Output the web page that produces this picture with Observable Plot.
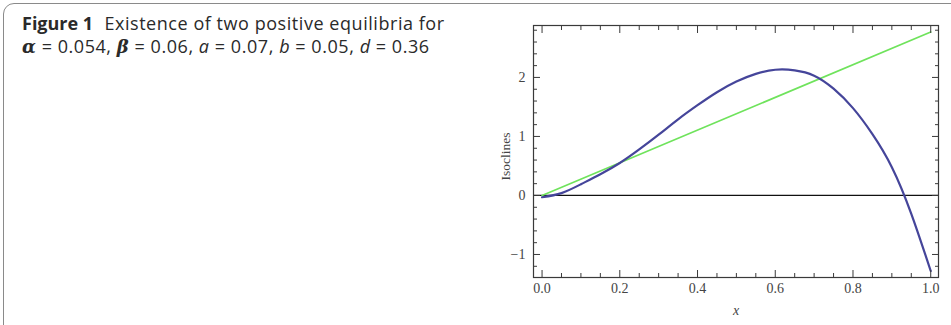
<!DOCTYPE html>
<html>
<head>
<meta charset="utf-8">
<script src="https://cdn.jsdelivr.net/npm/d3@7"></script>
<script src="https://cdn.jsdelivr.net/npm/@observablehq/plot@0.6"></script>
<style>
  html, body { margin: 0; padding: 0; background: #fff; }
  #page { position: relative; width: 951px; height: 325px; overflow: hidden; }
  #box {
    position: absolute; left: 3px; top: 3px; width: 980px; height: 360px;
    border: 1.5px solid #8a8a8a; border-radius: 11px; box-sizing: border-box;
  }
  #caption {
    position: absolute; left: 22px; top: 12px; width: 480px;
    font-family: "Open Sans", sans-serif; font-size: 18px; line-height: 23px;
    color: #2a2a2a; letter-spacing: 0.55px; white-space: nowrap;
  }
  #caption b { font-weight: 700; letter-spacing: 0; margin-right: 6px; }
  #caption i { font-style: italic; }
  #caption .g { font-family: "DejaVu Serif", serif; font-style: italic; font-weight: 700; }
  #chart { position: absolute; left: 490px; top: 0px; }
  #chart svg { overflow: visible; }
</style>
</head>
<body>
<div id="page">
  <div id="box"></div>
  <div id="caption">
    <b>Figure 1</b> Existence of two positive equilibria for<br>
    <span class="g">α</span> = 0.054, <span class="g">β</span> = 0.06, <i>a</i> = 0.07, <i>b</i> = 0.05, <i>d</i> = 0.36
  </div>
  <div id="chart"></div>
</div>
<script>
// Isocline sampled along x (blue curve)
const curveX = [0, 0.05, 0.1, 0.15, 0.2, 0.25, 0.3, 0.35, 0.4, 0.45, 0.5, 0.55, 0.6, 0.65, 0.7, 0.75, 0.8, 0.85, 0.9, 0.95, 1.0];
const curveY = [-0.03, 0.04, 0.19, 0.36, 0.55, 0.78, 1.03, 1.29, 1.53, 1.75, 1.93, 2.06, 2.13, 2.12, 2.03, 1.81, 1.48, 1.04, 0.48, -0.31, -1.28];

// Straight isocline (green line)
const lineX = [0, 1];
const lineY = [0, 2.77];

// Tick values
const xMajor = [0, 0.2, 0.4, 0.6, 0.8, 1.0];
const xMinor = [0.05, 0.1, 0.15, 0.25, 0.3, 0.35, 0.45, 0.5, 0.55, 0.65, 0.7, 0.75, 0.85, 0.9, 0.95];
const yMajor = [-1, 0, 1, 2];
const yMinor = [-1.2, -0.8, -0.6, -0.4, -0.2, 0.2, 0.4, 0.6, 0.8, 1.2, 1.4, 1.6, 1.8, 2.2, 2.4, 2.6, 2.8];

const xLabels = ["0.0", "0.2", "0.4", "0.6", "0.8", "1.0"];
const yLabels = ["\u22121", "0", "1", "2"];
const xTitle = "x";
const yTitle = "Isoclines";

const curve = curveX.map((x, i) => ({x, y: curveY[i]}));
const line = lineX.map((x, i) => ({x, y: lineY[i]}));

const serif = "Liberation Serif, Times New Roman, serif";
const frameColor = "#3a3a3a";

const plot = Plot.plot({
  width: 461,
  height: 325,
  marginLeft: 43,
  marginRight: 13,
  marginTop: 25,
  marginBottom: 48,
  style: {fontFamily: serif, fontSize: "12px", color: "#333", background: "transparent"},
  x: {domain: [-0.022, 1.02]},
  y: {domain: [-1.39, 2.88]},
  marks: [
    Plot.ruleY([0], {stroke: "#111", strokeWidth: 1.2}),
    Plot.line(line, {x: "x", y: "y", stroke: "#6fe35c", strokeWidth: 1.7}),
    Plot.line(curve, {x: "x", y: "y", stroke: "#45459a", strokeWidth: 2.2, curve: "natural"}),
    Plot.frame({stroke: frameColor, strokeWidth: 1.2}),
    // inward ticks on all four sides
    Plot.axisX({anchor: "bottom", ticks: xMajor, tickSize: -7, tickFormat: () => "", stroke: frameColor, label: null}),
    Plot.axisX({anchor: "bottom", ticks: xMinor, tickSize: -4, tickFormat: () => "", stroke: frameColor, label: null}),
    Plot.axisX({anchor: "top", ticks: xMajor, tickSize: -7, tickFormat: () => "", stroke: frameColor, label: null}),
    Plot.axisX({anchor: "top", ticks: xMinor, tickSize: -4, tickFormat: () => "", stroke: frameColor, label: null}),
    Plot.axisY({anchor: "left", ticks: yMajor, tickSize: -7, tickFormat: () => "", stroke: frameColor, label: null}),
    Plot.axisY({anchor: "left", ticks: yMinor, tickSize: -4, tickFormat: () => "", stroke: frameColor, label: null}),
    Plot.axisY({anchor: "right", ticks: yMajor, tickSize: -7, tickFormat: () => "", stroke: frameColor, label: null}),
    Plot.axisY({anchor: "right", ticks: yMinor, tickSize: -4, tickFormat: () => "", stroke: frameColor, label: null}),
    // tick labels
    Plot.axisX({anchor: "bottom", ticks: xMajor, tickSize: 0, tickPadding: 6, tickFormat: (d, i) => xLabels[i], fill: "#444", fontSize: 14, label: null}),
    Plot.axisY({anchor: "left", ticks: yMajor, tickSize: 0, tickPadding: 8, tickFormat: (d, i) => yLabels[i], fill: "#444", fontSize: 14, label: null}),
    // axis titles
    Plot.text([xTitle], {frameAnchor: "bottom", dy: 37, text: d => d, fontStyle: "italic", fontSize: 14, fill: "#444"}),
    Plot.text([yTitle], {frameAnchor: "left", dx: -28, dy: 5, rotate: -90, textAnchor: "middle", text: d => d, fontSize: 13.5, fill: "#444"})
  ]
});

document.getElementById("chart").appendChild(plot);
</script>
</body>
</html>
